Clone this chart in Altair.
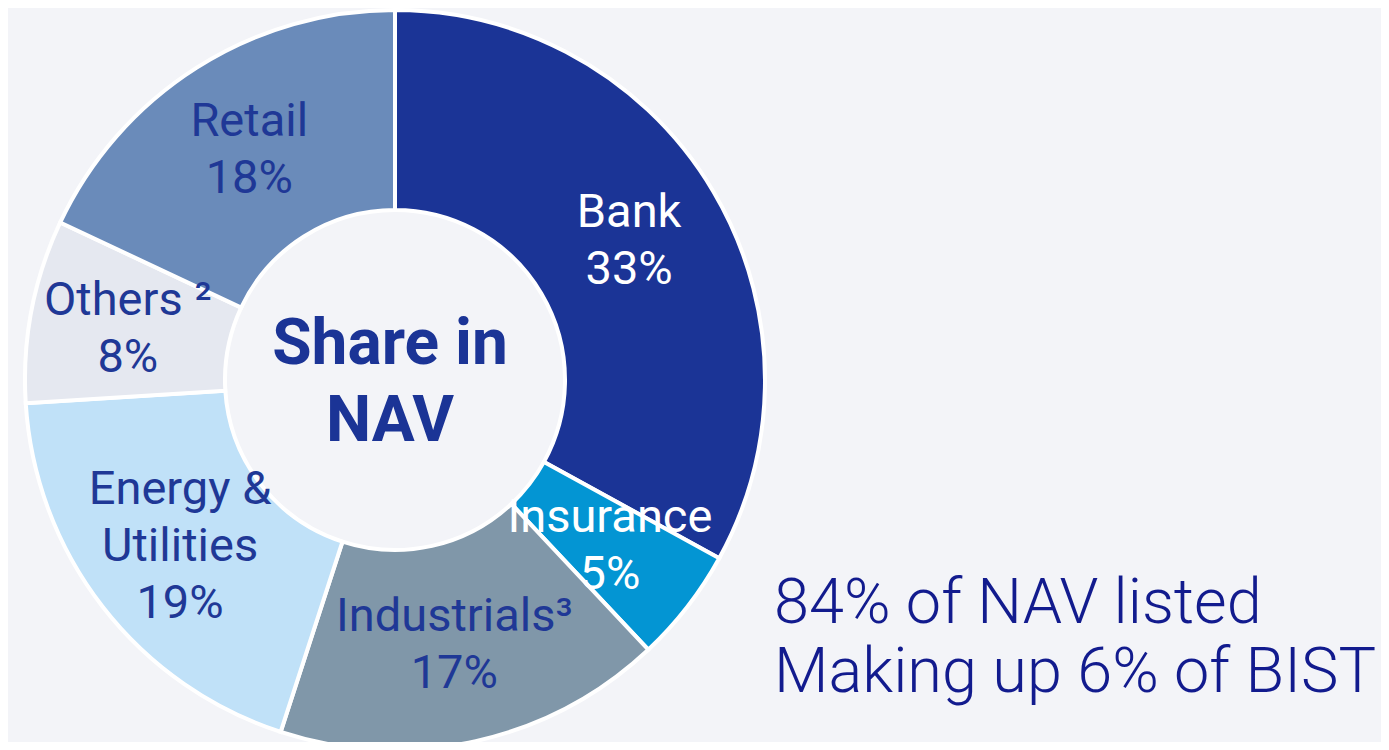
import altair as alt
import pandas as pd

sectors = ["Bank", "Insurance", "Industrials³", "Energy &\nUtilities", "Others ²", "Retail"]
shares = [33, 5, 17, 19, 8, 18]
colors = ["#1b3496", "#0395d3", "#8097a9", "#c0e1f8", "#e5e8f0", "#6a8bba"]
center_lines = ["Share in", "NAV"]
side_lines = ["84% of NAV listed", "Making up 6% of BIST"]

df = pd.DataFrame({
    "sector": sectors,
    "share": shares,
    "order": list(range(len(sectors))),
    "label": [f"{s}\n{v}%" for s, v in zip(sectors, shares)],
    "light": [True, True, False, False, False, False],
})

CX, CY = 387, 372
LH = 57
theta_scale = alt.Scale(domain=[0, 100])

arcs = alt.Chart(df).mark_arc(outerRadius=370, innerRadius=170, stroke="white", strokeWidth=4).encode(
    theta=alt.Theta("share:Q", stack=True, scale=theta_scale),
    order=alt.Order("order:Q"),
    x=alt.value(CX),
    y=alt.value(CY),
    color=alt.Color("sector:N", scale=alt.Scale(domain=sectors, range=colors), legend=None),
)

text_base = alt.Chart(df).transform_window(
    cum="sum(share)", sort=[alt.SortField("order")], frame=[None, 0]
).transform_calculate(
    mid="datum.cum - datum.share / 2",
    lines="split(datum.label, '\\n')",
).transform_calculate(
    n="length(datum.lines)"
)

label_layers = []
for N in (2, 3):
    for i in range(N):
        label_layers.append(
            text_base.transform_filter(f"datum.n == {N}")
            .transform_calculate(line=f"datum.lines[{i}]")
            .mark_text(radius=272, fontSize=47, font="Roboto", align="center",
                       baseline="middle", dy=(i - (N - 1) / 2) * LH)
            .encode(
                theta=alt.Theta("mid:Q", stack=None, scale=theta_scale),
                x=alt.value(CX),
                y=alt.value(CY),
                text="line:N",
                color=alt.condition("datum.light", alt.value("white"), alt.value("#1f3896")),
            )
        )

center = alt.Chart(pd.DataFrame({"t": ["\n".join(center_lines)]})).mark_text(
    font="Roboto", fontWeight="bold", fontSize=64, lineBreak="\n", lineHeight=77,
    align="center", baseline="middle", color="#1b3496"
).encode(text="t:N", x=alt.value(CX - 5), y=alt.value(CY - 35))

side = alt.Chart(pd.DataFrame({"t": ["\n".join(side_lines)]})).mark_text(
    font="Roboto", fontWeight=300, fontSize=63, lineBreak="\n", lineHeight=69,
    align="left", baseline="alphabetic", color="#121b8e"
).encode(text="t:N", x=alt.value(766), y=alt.value(615))

chart = alt.layer(arcs, *label_layers, center, side).properties(
    width=1373, height=734, padding=0, autosize=alt.AutoSizeParams(type="none"),
    background="#f3f4f8",
).configure_view(stroke=None)

chart.save("out.html", embed_options={"renderer": "svg", "actions": False})
